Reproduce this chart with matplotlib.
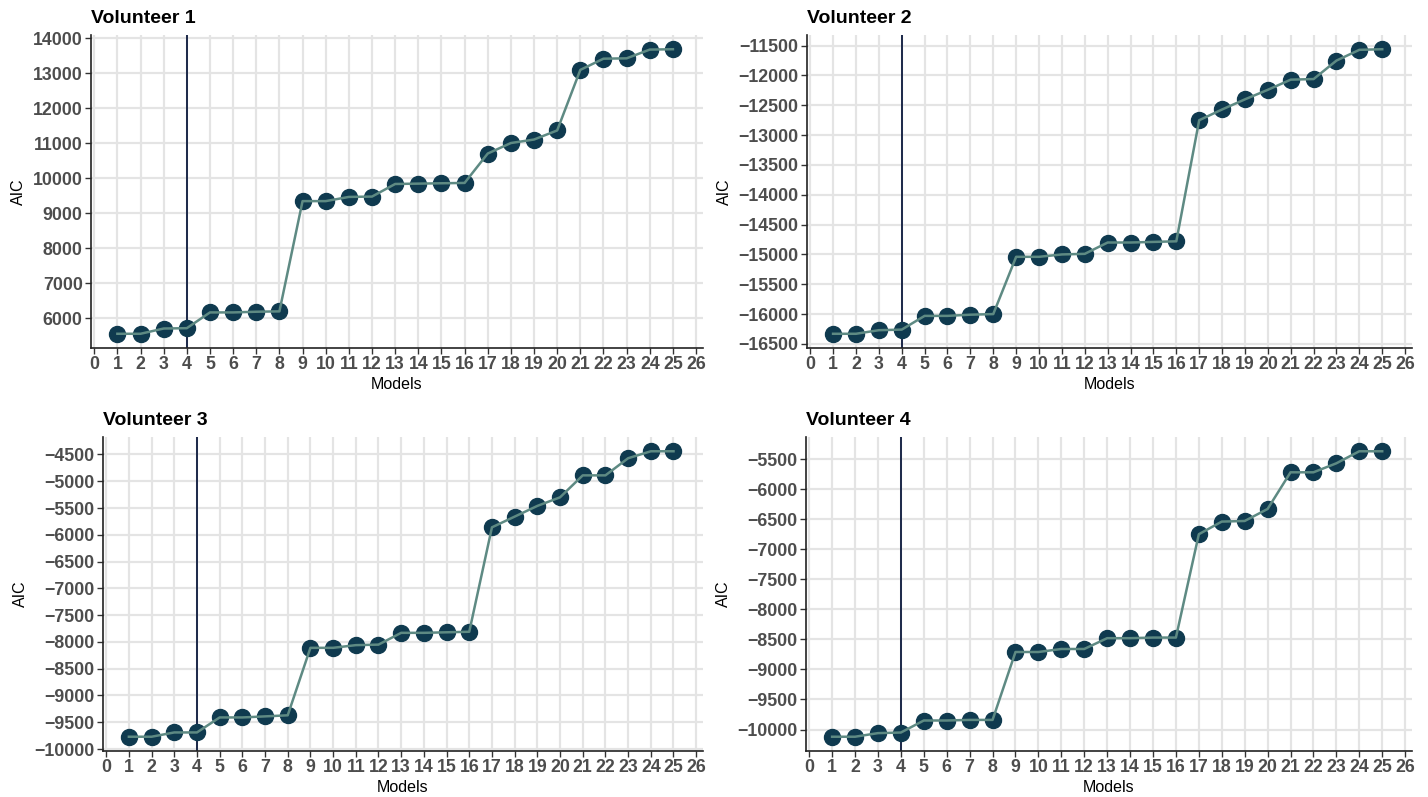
import numpy as np
import matplotlib
matplotlib.use("Agg")
import matplotlib.pyplot as plt
from matplotlib.ticker import MultipleLocator

# AIC per model
models = list(range(1, 26))

aic_v1 = [5560, 5560, 5710, 5720, 6170, 6170, 6190, 6200, 9350, 9350, 9470, 9480,
          9840, 9850, 9860, 9870, 10710, 11010, 11110, 11370, 13100, 13420, 13430,
          13680, 13690]
aic_v2 = [-16330, -16330, -16270, -16260, -16030, -16030, -16010, -16000, -15040,
          -15040, -15000, -14990, -14800, -14800, -14790, -14780, -12750, -12570,
          -12400, -12240, -12070, -12060, -11750, -11570, -11560]
aic_v3 = [-9770, -9770, -9690, -9690, -9410, -9410, -9390, -9370, -8110, -8110,
          -8060, -8050, -7830, -7830, -7820, -7810, -5860, -5660, -5460, -5300,
          -4890, -4890, -4570, -4440, -4440]
aic_v4 = [-10120, -10120, -10060, -10050, -9850, -9850, -9840, -9840, -8710, -8710,
          -8660, -8660, -8480, -8480, -8470, -8470, -6750, -6540, -6530, -6330,
          -5720, -5720, -5570, -5370, -5370]

titles = ["Volunteer 1", "Volunteer 2", "Volunteer 3", "Volunteer 4"]
series = [aic_v1, aic_v2, aic_v3, aic_v4]
y_steps = [1000, 500, 500, 500]
chosen_model = 4

W, H = 1428, 797
# axes boxes in pixels: left, top, right, bottom
boxes = [(91, 35, 703, 348), (807, 35, 1412, 348),
         (103, 437, 703, 751), (806, 437, 1412, 751)]

font = ["Liberation Sans", "DejaVu Sans"]

fig = plt.figure(figsize=(W / 100, H / 100), dpi=100)

for (l, t, r, b), title, vals, step in zip(boxes, titles, series, y_steps):
    ax = fig.add_axes([l / W, 1 - b / H, (r - l) / W, (b - t) / H])
    ax.grid(True, color="#e4e4e4", linewidth=1.6)
    ax.set_axisbelow(True)
    ax.axvline(chosen_model, color="#1b2748", linewidth=1.4, zorder=2)
    # points first, then the line on top of them (as in the reference)
    ax.plot(models, vals, "o", color="#0f3a4f", markersize=11.5, zorder=3)
    ax.plot(models, vals, color="#5e8a83", linewidth=1.8, zorder=4)

    ax.set_xlim(-0.14, 26.3)
    lo, hi = min(vals), max(vals)
    pad = (hi - lo) * 0.05
    ax.set_ylim(lo - pad, hi + pad)
    ax.xaxis.set_major_locator(MultipleLocator(1))
    ax.yaxis.set_major_locator(MultipleLocator(step))

    for s in ["top", "right"]:
        ax.spines[s].set_visible(False)
    for s in ["left", "bottom"]:
        ax.spines[s].set_linewidth(1.2)
        ax.spines[s].set_color("#222222")
    ax.tick_params(length=4, width=1.0, color="#333333", pad=2)
    for lab in ax.get_xticklabels() + ax.get_yticklabels():
        lab.set_family(font)
        lab.set_fontweight("bold")
        lab.set_fontsize(12.8)
        lab.set_color("#4d4d4d")

    ax.set_xlabel("Models", fontsize=11.5, family=font, labelpad=3)
    ax.set_ylabel("AIC", fontsize=11.5, family=font, labelpad=5)
    ax.set_title(title, loc="left", fontsize=14, fontweight="bold",
                 family=font, pad=8.5)

fig.savefig("out.png", dpi=100, facecolor="white")
